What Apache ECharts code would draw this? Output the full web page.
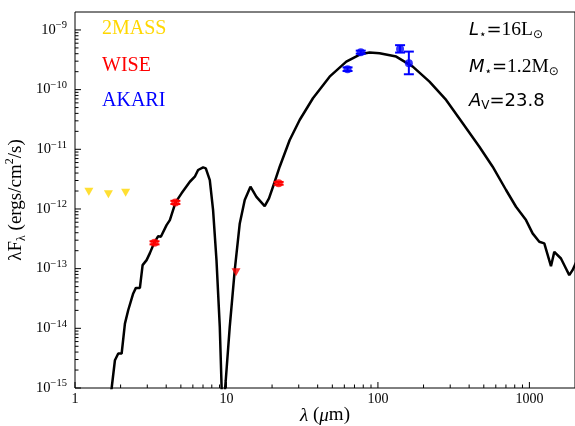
<!DOCTYPE html>
<html><head><meta charset="utf-8">
<script src="https://cdn.jsdelivr.net/npm/echarts/dist/echarts.min.js"></script>
<style>html,body{margin:0;padding:0;background:#fff}#c{width:575px;height:426px}</style>
</head><body><div id="c"></div>
<script>
// ---- Data ----
const modelWave = [1.72, 1.746, 1.835, 1.93, 2.032, 2.136, 2.245, 2.423, 2.524, 2.682, 2.795, 2.969, 3.122, 3.333, 3.541, 3.688, 4.022, 4.229, 4.611, 5.051, 5.731, 6.18, 6.498, 7.014, 7.304, 7.762, 8.159, 8.592, 9.034, 9.427, 9.894, 10.51, 11.34, 12.24, 13.2, 14.4, 15.77, 17.88, 19.09, 20.82, 22.46, 26.15, 30.42, 37.23, 47.97, 61.81, 77.63, 88.06, 102.5, 132, 169.9, 218.9, 281.9, 362.8, 467.4, 572.1, 701.1, 815.7, 949.7, 1050, 1162, 1254, 1388, 1460, 1616, 1743, 1833, 1927, 2037];
const modelFlux = [8e-16, 1e-15, 2.92e-15, 3.78e-15, 3.78e-15, 1.2e-14, 2.01e-14, 3.84e-14, 4.76e-14, 4.76e-14, 1.145e-13, 1.389e-13, 1.82e-13, 2.71e-13, 3.51e-13, 3.42e-13, 5.37e-13, 6.51e-13, 1.29e-12, 1.83e-12, 2.86e-12, 3.47e-12, 4.5e-12, 4.99e-12, 4.8e-12, 3.05e-12, 9.58e-13, 1.39e-13, 1.056e-14, 3e-16, 1.35e-15, 1.056e-14, 9.44e-14, 5.73e-13, 1.41e-12, 2.36e-12, 1.6e-12, 1.12e-12, 1.51e-12, 2.86e-12, 5.11e-12, 1.43e-11, 3.1e-11, 7.17e-11, 1.65e-10, 2.95e-10, 3.97e-10, 4.18e-10, 4.08e-10, 3.58e-10, 2.43e-10, 1.36e-10, 6.72e-11, 2.73e-11, 1.106e-11, 5.11e-12, 2.08e-12, 1.09e-12, 6.51e-13, 3.9e-13, 2.82e-13, 2.65e-13, 1.1e-13, 1.91e-13, 1.48e-13, 1.008e-13, 7.78e-14, 9.44e-14, 1.29e-13];

const twomassWave = [1.235, 1.662, 2.159];
const twomassFlux = [1.94e-12, 1.76e-12, 1.87e-12];

const wiseWave = [3.35, 4.6, 22.1];
const wiseFlux = [2.71e-13, 1.29e-12, 2.69e-12];
const wiseLow  = [2.55e-13, 1.21e-12, 2.55e-12];
const wiseHigh = [2.88e-13, 1.37e-12, 2.84e-12];
const wiseLimitWave = [11.56];
const wiseLimitFlux = [8.7e-14];

const akariWave = [63, 77, 140, 160];
const akariFlux = [2.20e-10, 4.24e-10, 4.82e-10, 2.77e-10];
const akariLow  = [2.05e-10, 4.00e-10, 4.18e-10, 1.81e-10];
const akariHigh = [2.36e-10, 4.50e-10, 5.56e-10, 4.34e-10];

const xTickDecades = [1, 10, 100, 1000];
const yTickExponents = [-15, -14, -13, -12, -11, -10, -9];

const legendNames = ['2MASS', 'WISE', 'AKARI'];
const paramTexts = ['L', 'M', 'A'];

// ---- Helpers ----
const SERIF = "'Liberation Serif', 'DejaVu Serif', serif";
const SANS = "'DejaVu Sans', sans-serif";
const GOLD = '#FFD700', RED = '#FF0000', BLUE = '#0000FF';
const xMin = 1, xMax = 2000, yMin = 1e-15, yMax = 2e-9;

function zip(a, b) { return a.map((v, i) => [v, b[i]]); }
function zip3(a, b, c) { return a.map((v, i) => [v, b[i], c[i]]); }
function isPow10(v) { const l = Math.log10(v); return Math.abs(l - Math.round(l)) < 1e-6; }

const xTicks = [];
xTickDecades.forEach(d => { for (let m = 1; m <= 9; m++) { const v = d * m; if (v < xMax) xTicks.push([v, yMin, m === 1 ? 1 : 0]); } });
const yTicks = [];
yTickExponents.forEach(e => { for (let m = 1; m <= 9; m++) { const v = m * Math.pow(10, e); if (v <= yMax * 0.999) yTicks.push([xMin, v, m === 1 ? 1 : 0]); } });

function tickRender(horizontal) {
  return function (params, api) {
    const c = api.coord([api.value(0), api.value(1)]);
    const L = api.value(2) ? 6 : 3.5;
    const shape = horizontal
      ? { x1: c[0], y1: c[1], x2: c[0], y2: c[1] - L }
      : { x1: c[0], y1: c[1], x2: c[0] + L, y2: c[1] };
    return { type: 'line', shape: shape, style: { stroke: '#000', lineWidth: 1 } };
  };
}

function errRender(color) {
  return function (params, api) {
    const x = api.value(0);
    const p1 = api.coord([x, api.value(1)]);
    const p2 = api.coord([x, api.value(2)]);
    const cw = 5;
    const st = { stroke: color, lineWidth: 2 };
    return {
      type: 'group', children: [
        { type: 'line', shape: { x1: p1[0], y1: p1[1], x2: p2[0], y2: p2[1] }, style: st },
        { type: 'line', shape: { x1: p1[0] - cw, y1: p1[1], x2: p1[0] + cw, y2: p1[1] }, style: st },
        { type: 'line', shape: { x1: p2[0] - cw, y1: p2[1], x2: p2[0] + cw, y2: p2[1] }, style: st }
      ]
    };
  };
}

const chart = echarts.init(document.getElementById('c'), null, { renderer: 'canvas' });
const labelRich = {
  it: { fontFamily: SANS, fontStyle: 'italic', fontSize: 18, lineHeight: 22 },
  sans: { fontFamily: SANS, fontSize: 18, lineHeight: 22 },
  ser: { fontFamily: SERIF, fontSize: 19.5, lineHeight: 22 },
  sub: { fontFamily: SANS, fontSize: 12, lineHeight: 12, verticalAlign: 'bottom' }
};

chart.setOption({
  animation: false,
  grid: { left: 75, top: 12, width: 500, height: 376, show: true, borderColor: '#000', borderWidth: 1, containLabel: false, outerBoundsMode: 'none' },
  xAxis: {
    type: 'log', logBase: 10, min: xMin, max: xMax,
    axisLine: { show: false }, axisTick: { show: false }, splitLine: { show: false },
    axisLabel: {
      margin: 4, color: '#000', fontFamily: SERIF, fontSize: 14,
      formatter: v => isPow10(v) ? String(Math.round(v)) : ''
    },
    name: '{i|λ} ({i|μ}m)', nameLocation: 'middle', nameGap: 18, nameMoveOverlap: false,
    nameTextStyle: { color: '#000', fontFamily: SERIF, fontSize: 19,
      rich: { i: { fontFamily: SERIF, fontStyle: 'italic', fontSize: 19 } } }
  },
  yAxis: {
    type: 'log', logBase: 10, min: yMin, max: yMax,
    axisLine: { show: false }, axisTick: { show: false }, splitLine: { show: false },
    axisLabel: {
      margin: 8, color: '#000',
      formatter: v => { if (!isPow10(v)) return ''; const e = Math.round(Math.log10(v)); return '{b|10}{s|−' + (-e) + '}'; },
      rich: {
        b: { fontFamily: SERIF, fontSize: 14.5, lineHeight: 20, color: '#000' },
        s: { fontFamily: SERIF, fontSize: 10.5, lineHeight: 10, verticalAlign: 'top', color: '#000' }
      }
    },
    name: '{r|λF}{sub|λ}{r| (ergs/cm}{sup|2}{r|/s)}', nameLocation: 'middle', nameGap: 47, nameMoveOverlap: false,
    nameTextStyle: { color: '#000',
      rich: {
        r: { fontFamily: SERIF, fontSize: 19, lineHeight: 24 },
        sub: { fontFamily: SERIF, fontSize: 12, lineHeight: 12, verticalAlign: 'bottom' },
        sup: { fontFamily: SERIF, fontSize: 12, lineHeight: 12, verticalAlign: 'top' }
      } }
  },
  graphic: [
    { type: 'text', left: 102, top: 19, style: { text: legendNames[0], fill: GOLD, font: "20px 'Liberation Serif'" } },
    { type: 'text', left: 102, top: 56, style: { text: legendNames[1], fill: RED, font: "20px 'Liberation Serif'" } },
    { type: 'text', left: 102, top: 91, style: { text: legendNames[2], fill: BLUE, font: "20px 'Liberation Serif'" } },
    { type: 'text', left: 469, top: 20, style: { text: '{it|' + paramTexts[0] + '}{sub|⋆}{sans|=}{ser|16L}{sub|⊙}', rich: labelRich, fill: '#000' } },
    { type: 'text', left: 469, top: 57, style: { text: '{it|' + paramTexts[1] + '}{sub|⋆}{sans|=}{ser|1.2M}{sub|⊙}', rich: labelRich, fill: '#000' } },
    { type: 'text', left: 469, top: 92, style: { text: '{it|' + paramTexts[2] + '}{sub|V}{sans|=23.8}', rich: labelRich, fill: '#000' } }
  ],
  series: [
    { type: 'line', data: zip(modelWave, modelFlux), showSymbol: false, symbol: 'none', clip: true,
      lineStyle: { color: '#000', width: 2.5 }, z: 2, silent: true },
    { type: 'custom', data: zip3(wiseWave, wiseLow, wiseHigh), encode: { x: 0, y: [1, 2] }, renderItem: errRender(RED), z: 3, silent: true },
    { type: 'custom', data: zip3(akariWave, akariLow, akariHigh), encode: { x: 0, y: [1, 2] }, renderItem: errRender(BLUE), z: 3, silent: true },
    { type: 'scatter', data: zip(twomassWave, twomassFlux), symbol: 'triangle', symbolRotate: 180, symbolSize: [9, 8], itemStyle: { color: GOLD }, z: 4, silent: true },
    { type: 'scatter', data: zip(wiseWave, wiseFlux), symbol: 'circle', symbolSize: 8, itemStyle: { color: RED }, z: 4, silent: true },
    { type: 'scatter', data: zip(wiseLimitWave, wiseLimitFlux), symbol: 'triangle', symbolRotate: 180, symbolSize: [9, 8], itemStyle: { color: RED }, z: 4, silent: true },
    { type: 'scatter', data: zip(akariWave, akariFlux), symbol: 'circle', symbolSize: 8, itemStyle: { color: BLUE }, z: 4, silent: true },
    { type: 'custom', data: xTicks, encode: { x: 0, y: 1 }, renderItem: tickRender(true), z: 5, silent: true, clip: false },
    { type: 'custom', data: yTicks, encode: { x: 0, y: 1 }, renderItem: tickRender(false), z: 5, silent: true, clip: false }
  ]
});
</script>
</body></html>
